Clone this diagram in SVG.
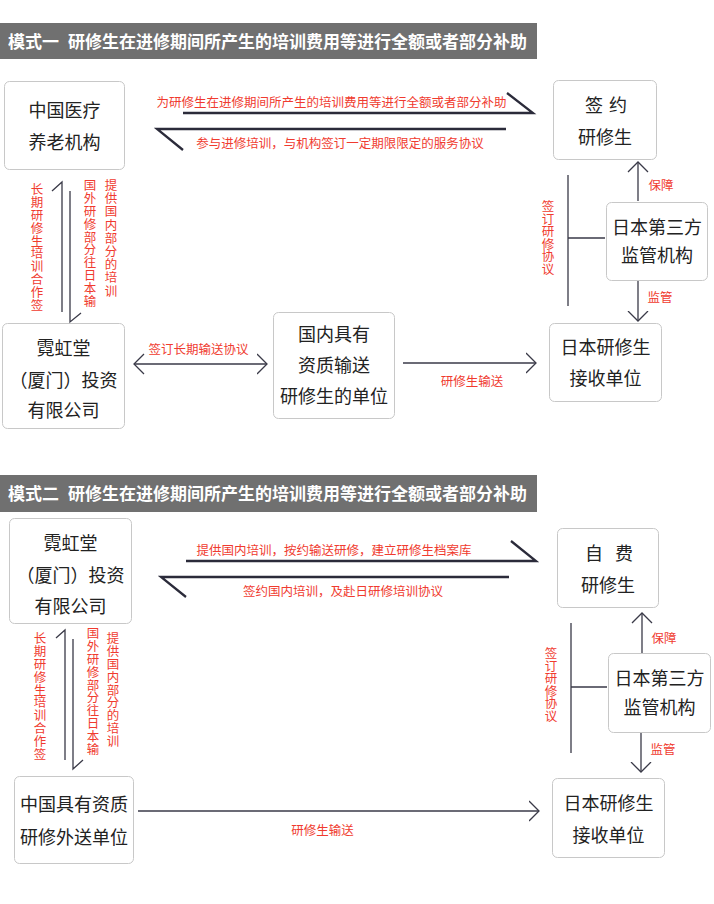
<svg xmlns="http://www.w3.org/2000/svg" width="714" height="904" viewBox="0 0 714 904">
<style>
.bar{fill:#707070}
.ttl{font-family:"Noto Sans CJK SC","Liberation Sans",sans-serif;font-size:17px;font-weight:bold;fill:#ffffff}
.box{fill:#ffffff;stroke:#c8c8c8;stroke-width:1}
.bt{font-family:"Noto Sans CJK SC","Liberation Sans",sans-serif;font-size:18px;fill:#222222;text-anchor:middle}
.lb{font-family:"Noto Sans CJK SC","Liberation Sans",sans-serif;font-size:12.5px;fill:#f03b2f;text-anchor:middle}
.vl{font-family:"Noto Sans CJK SC","Liberation Sans",sans-serif;font-size:12.5px;fill:#f03b2f;writing-mode:vertical-rl;text-anchor:start;letter-spacing:0.4px}
.thick{fill:none;stroke:#2b2b3a;stroke-width:2.3}
.thin{fill:none;stroke:#3a3a48;stroke-width:1.3}
</style>
<defs>
<marker id="chev" markerUnits="userSpaceOnUse" viewBox="0 0 12 22" markerWidth="12" markerHeight="22" refX="10.5" refY="11" orient="auto-start-reverse">
<path d="M0.5,1 L10.5,11 L0.5,21" fill="none" stroke="#3a3a48" stroke-width="1.3"/>
</marker>
</defs>
<rect width="714" height="904" fill="#ffffff"/>

<g id="title1">
<rect class="bar" x="0" y="23" width="537" height="36"/>
<text class="ttl" y="47.5"><tspan x="8">模式一</tspan><tspan x="68">研修生在进修期间所产生的培训费用等进行全额或者部分补助</tspan></text>
</g>

<g id="n1-yiliao">
<rect class="box" x="4.5" y="81.5" width="120" height="88" rx="5"/>
<text class="bt" x="64.5" y="116.8">中国医疗</text>
<text class="bt" x="64.5" y="148.8">养老机构</text>
</g>
<g id="n1-qianyue">
<rect class="box" x="553.5" y="80.5" width="103" height="79" rx="5"/>
<text class="bt" x="594" y="111.8">签</text>
<text class="bt" x="618" y="111.8">约</text>
<text class="bt" x="605" y="143.8">研修生</text>
</g>
<g id="n1-nihongtang">
<rect class="box" x="2.5" y="323.5" width="122" height="105" rx="5"/>
<text class="bt" x="63.5" y="354.8">霓虹堂</text>
<text class="bt" x="63.5" y="386.8">（厦门）投资</text>
<text class="bt" x="63.5" y="416.8">有限公司</text>
</g>
<g id="n1-guonei">
<rect class="box" x="273.5" y="312.5" width="121" height="106" rx="5"/>
<text class="bt" x="334" y="340.8">国内具有</text>
<text class="bt" x="334" y="371.8">资质输送</text>
<text class="bt" x="334" y="402.8">研修生的单位</text>
</g>
<g id="n1-jieshou">
<rect class="box" x="549.5" y="323.5" width="112" height="78" rx="5"/>
<text class="bt" x="605.5" y="353.8">日本研修生</text>
<text class="bt" x="605.5" y="384.8">接收单位</text>
</g>
<g id="n1-jianguan">
<rect class="box" x="606.5" y="202.5" width="101" height="78" rx="5"/>
<text class="bt" x="657" y="233.8">日本第三方</text>
<text class="bt" x="657" y="261.8">监管机构</text>
</g>

<g id="title2">
<rect class="bar" x="0" y="475" width="537" height="37"/>
<text class="ttl" y="499.5"><tspan x="8">模式二</tspan><tspan x="68">研修生在进修期间所产生的培训费用等进行全额或者部分补助</tspan></text>
</g>

<g id="n2-nihongtang">
<rect class="box" x="9.5" y="518.5" width="122" height="105" rx="5"/>
<text class="bt" x="70.5" y="549.8">霓虹堂</text>
<text class="bt" x="70.5" y="581.8">（厦门）投资</text>
<text class="bt" x="70.5" y="612.8">有限公司</text>
</g>
<g id="n2-zifei">
<rect class="box" x="557.5" y="528.5" width="101" height="79" rx="5"/>
<text class="bt" x="594" y="559.8">自</text>
<text class="bt" x="624" y="559.8">费</text>
<text class="bt" x="608" y="591.8">研修生</text>
</g>
<g id="n2-jianguan">
<rect class="box" x="608.5" y="653.5" width="102" height="79" rx="5"/>
<text class="bt" x="659.5" y="684.8">日本第三方</text>
<text class="bt" x="659.5" y="713.8">监管机构</text>
</g>
<g id="n2-jieshou">
<rect class="box" x="552.5" y="778.5" width="112" height="79" rx="5"/>
<text class="bt" x="608.5" y="809.8">日本研修生</text>
<text class="bt" x="608.5" y="841.8">接收单位</text>
</g>
<g id="n2-waisong">
<rect class="box" x="14.5" y="776.5" width="119" height="87" rx="5"/>
<text class="bt" x="74" y="810.8">中国具有资质</text>
<text class="bt" x="74" y="843.8">研修外送单位</text>
</g>

<g id="connectors">
<path class="thick" d="M183,113 H533 L507,93"/>
<path class="thick" d="M506,129 H157 L183,150"/>
<path class="thin" d="M62,312 V182 L52,191"/>
<path class="thin" d="M70,191 V322 L81,313"/>
<path class="thin" d="M134,364 H267" marker-start="url(#chev)" marker-end="url(#chev)"/>
<path class="thin" d="M403,363 H536" marker-end="url(#chev)"/>
<path class="thin" d="M638,201 V162" marker-end="url(#chev)"/>
<path class="thin" d="M638,281 V321" marker-end="url(#chev)"/>
<path class="thin" d="M568,175 V306 M568,238 H605"/>
<path class="thick" d="M186,561 H536 L511,541"/>
<path class="thick" d="M509,577 H161 L186,597"/>
<path class="thin" d="M65,760 V630 L56,638"/>
<path class="thin" d="M73,639 V769 L83,760"/>
<path class="thin" d="M138,811 H539" marker-end="url(#chev)"/>
<path class="thin" d="M642,653 V613" marker-end="url(#chev)"/>
<path class="thin" d="M641,733 V772" marker-end="url(#chev)"/>
<path class="thin" d="M571,623 V753 M571,687 H607"/>
</g>

<g id="labels">
<text class="lb" x="331.5" y="106.8">为研修生在进修期间所产生的培训费用等进行全额或者部分补助</text>
<text class="lb" x="340" y="147.8">参与进修培训，与机构签订一定期限限定的服务协议</text>
<text class="lb" x="198.5" y="353.8">签订长期输送协议</text>
<text class="lb" x="472" y="385.8">研修生输送</text>
<text class="lb" x="661" y="189.8">保障</text>
<text class="lb" x="660" y="301.8">监管</text>
<text class="vl" x="37" y="183">长期研修生培训合作签</text>
<text class="vl" x="90" y="179">国外研修部分往日本输</text>
<text class="vl" x="111" y="179" style="letter-spacing:0.7px">提供国内部分的培训</text>
<text class="vl" x="548" y="200" style="letter-spacing:0px">签订研修协议</text>

<text class="lb" x="334" y="554.8">提供国内培训，按约输送研修，建立研修生档案库</text>
<text class="lb" x="343" y="595.8">签约国内培训，及赴日研修培训协议</text>
<text class="lb" x="322.5" y="834.8">研修生输送</text>
<text class="lb" x="664" y="642.8">保障</text>
<text class="lb" x="663" y="753.8">监管</text>
<text class="vl" x="40" y="632">长期研修生培训合作签</text>
<text class="vl" x="93" y="627">国外研修部分往日本输</text>
<text class="vl" x="113" y="632">提供国内部分的培训</text>
<text class="vl" x="551" y="647" style="letter-spacing:0px">签订研修协议</text>
</g>
</svg>
